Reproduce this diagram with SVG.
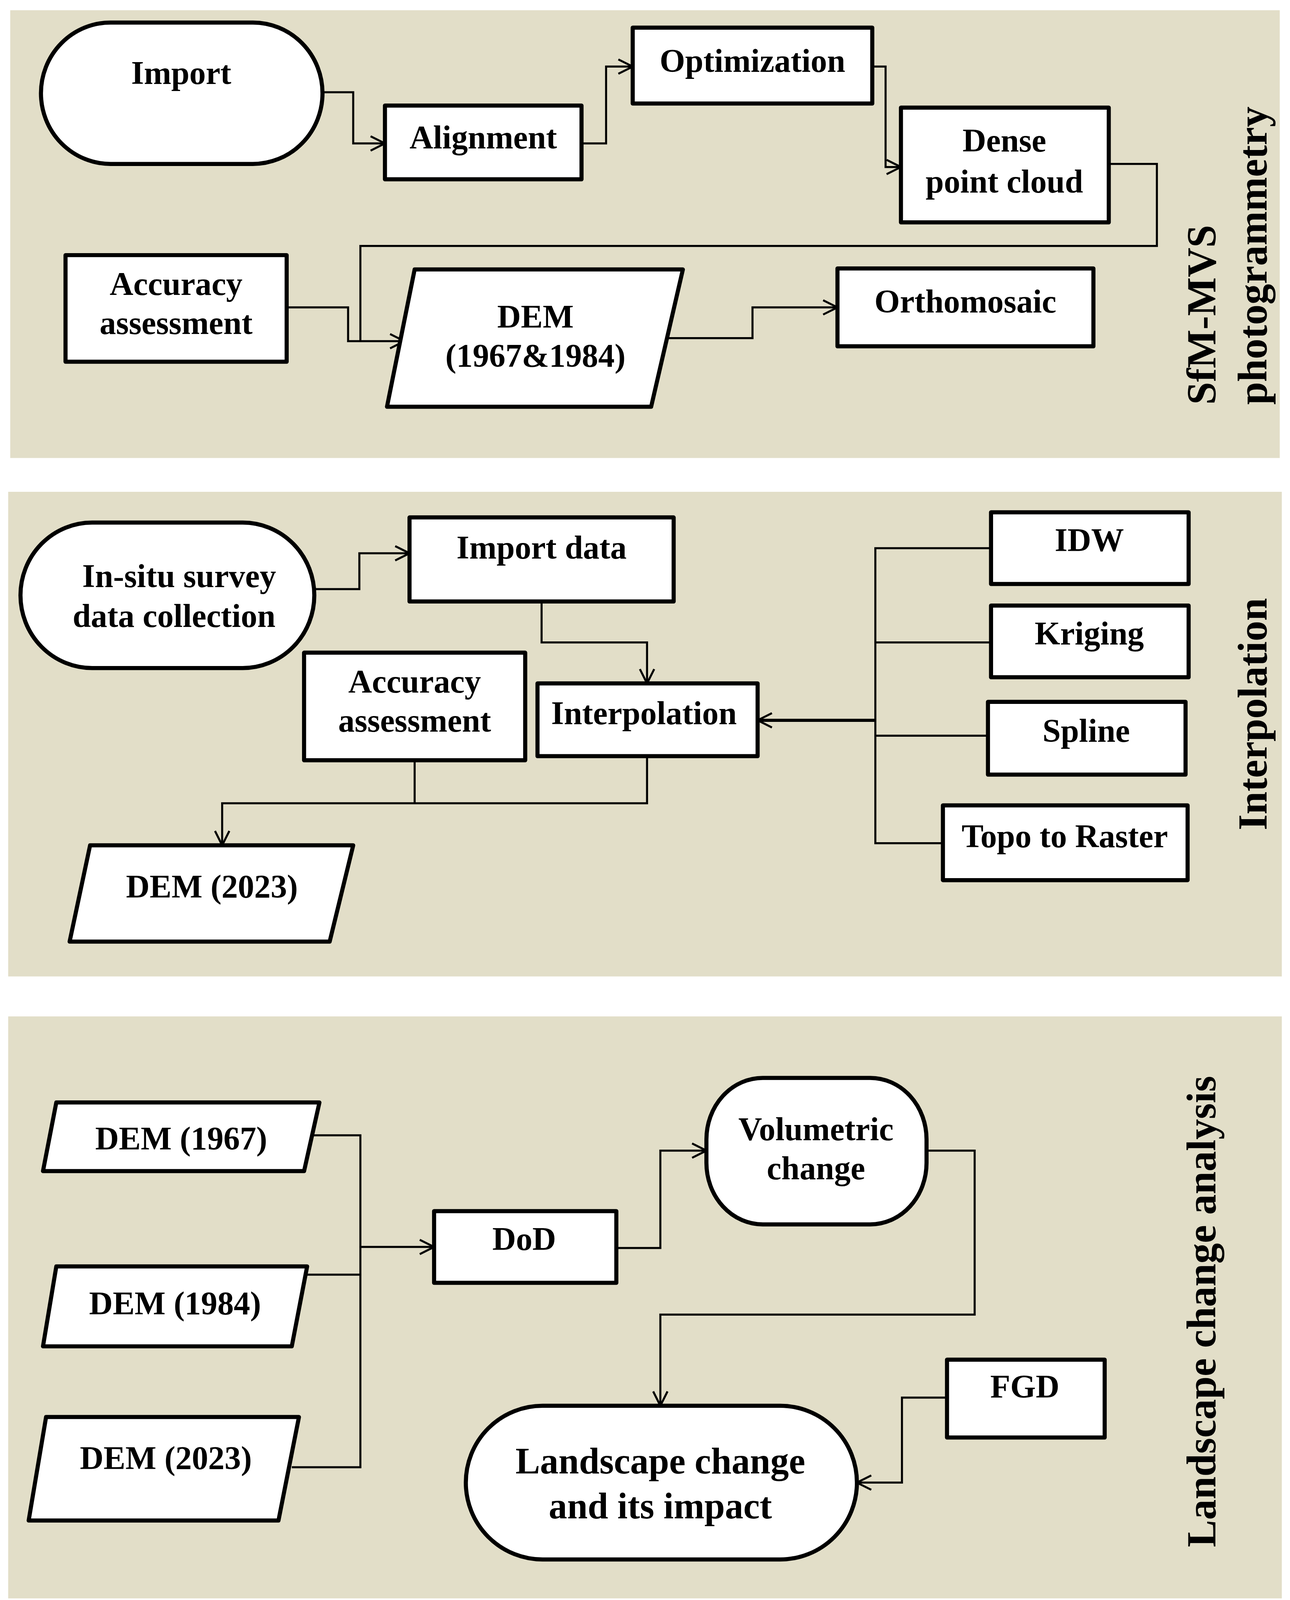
<svg xmlns="http://www.w3.org/2000/svg" width="3302" height="4113" viewBox="0 0 3302 4113">
<style>
.p{fill:#e2dec8}
.n{fill:#fff;stroke:#000;stroke-width:4;stroke-linejoin:round}
.t{font-family:"Liberation Serif",serif;font-weight:bold;font-size:32px;text-anchor:middle;fill:#000}
.c{fill:none;stroke:#000;stroke-width:2}
.l{font-family:"Liberation Serif",serif;font-weight:bold;font-size:40px;fill:#000}
</style>
<defs><marker id="a" viewBox="0 0 16 16" refX="15" refY="8" markerWidth="16" markerHeight="16" markerUnits="userSpaceOnUse" orient="auto"><path d="M1,1 L15,8 L1,15" fill="none" stroke="#000" stroke-width="2"/></marker></defs>
<rect width="3302" height="4113" fill="#fff"/>
<g transform="scale(2.6206,2.623)">
<rect class="p" x="10" y="10" width="1240" height="437"/>
<rect class="p" x="8" y="480" width="1244" height="473"/>
<rect class="p" x="8" y="992" width="1244" height="568"/>
<g id="connectors">
<path class="c" marker-end="url(#a)" d="M315,90H345V140H376"/>
<path class="c" marker-end="url(#a)" d="M568,140H592V65H618"/>
<path class="c" marker-end="url(#a)" d="M852,65H865V163H880"/>
<path class="c" marker-end="url(#a)" d="M1083,160H1130V240H352V333H395"/>
<path class="c" d="M280,300H340V333H352"/>
<path class="c" marker-end="url(#a)" d="M652,330H735V300H818"/>
<path class="c" marker-end="url(#a)" d="M307,575H351V540H400"/>
<path class="c" marker-end="url(#a)" d="M529,587V627H632V667"/>
<path class="c" d="M405,742V784"/>
<path class="c" marker-end="url(#a)" d="M632,738V784H217V825"/>
<path class="c" d="M968,535H855V823H921M855,627H968M855,718H965"/>
<path class="c" marker-end="url(#a)" style="stroke-width:3" d="M855,703H740"/>
<path class="c" d="M305,1108H352V1432H285M292,1244H352"/>
<path class="c" marker-end="url(#a)" d="M352,1217H424"/>
<path class="c" marker-end="url(#a)" d="M602,1218H645V1123H690"/>
<path class="c" marker-end="url(#a)" d="M905,1123H952V1283H645V1372"/>
<path class="c" marker-end="url(#a)" d="M925,1364H881V1447H837"/>
</g>
<g id="import"><rect class="n" x="40" y="22" width="275" height="138" rx="68" ry="69"/><text class="t" x="177" y="82">Import</text></g>
<g id="alignment"><rect class="n" x="376" y="103" width="192" height="72"/><text class="t" x="472" y="145">Alignment</text></g>
<g id="optimization"><rect class="n" x="618" y="27" width="234" height="74"/><text class="t" x="735" y="70">Optimization</text></g>
<g id="dense"><rect class="n" x="880" y="105" width="203" height="112"/><text class="t" x="981" y="148">Dense</text><text class="t" x="981" y="188">point cloud</text></g>
<g id="acc1"><rect class="n" x="64" y="249" width="216" height="104"/><text class="t" x="172" y="288">Accuracy</text><text class="t" x="172" y="326">assessment</text></g>
<g id="dem1"><polygon class="n" points="405,263 667,263 636,397 378,397"/><text class="t" x="523" y="320">DEM</text><text class="t" x="523" y="358">(1967&amp;1984)</text></g>
<g id="ortho"><rect class="n" x="818" y="262" width="250" height="76"/><text class="t" x="943" y="305">Orthomosaic</text></g>
<text class="l" transform="translate(1187,395) rotate(-90)">SfM-MVS</text>
<text class="l" transform="translate(1237,395) rotate(-90)">photogrammetry</text>
<g id="insitu"><rect class="n" x="20" y="510" width="287" height="142" rx="70" ry="71"/><text class="t" x="175" y="573">In-situ survey</text><text class="t" x="170" y="612">data collection</text></g>
<g id="importdata"><rect class="n" x="400" y="505" width="258" height="82"/><text class="t" x="529" y="545">Import data</text></g>
<g id="acc2"><rect class="n" x="297" y="637" width="216" height="105"/><text class="t" x="405" y="676">Accuracy</text><text class="t" x="405" y="714">assessment</text></g>
<g id="interp"><rect class="n" x="525" y="667" width="215" height="71"/><text class="t" x="629" y="707">Interpolation</text></g>
<g id="dem2023a"><polygon class="n" points="88,825 345,825 322,919 68,919"/><text class="t" x="207" y="876">DEM (2023)</text></g>
<g id="idw"><rect class="n" x="968" y="500" width="193" height="70"/><text class="t" x="1064" y="538">IDW</text></g>
<g id="kriging"><rect class="n" x="968" y="591" width="193" height="70"/><text class="t" x="1064" y="629">Kriging</text></g>
<g id="spline"><rect class="n" x="965" y="685" width="193" height="71"/><text class="t" x="1061" y="724">Spline</text></g>
<g id="topo"><rect class="n" x="921" y="786" width="239" height="73"/><text class="t" x="1040" y="827">Topo to Raster</text></g>
<text class="l" style="text-anchor:middle" transform="translate(1237,697) rotate(-90)">Interpolation</text>
<g id="dem1967"><polygon class="n" points="55,1076 312,1076 297,1143 42,1143"/><text class="t" x="177" y="1122">DEM (1967)</text></g>
<g id="dem1984"><polygon class="n" points="55,1236 300,1236 285,1314 42,1314"/><text class="t" x="171" y="1283">DEM (1984)</text></g>
<g id="dem2023"><polygon class="n" points="45,1383 292,1383 272,1484 28,1484"/><text class="t" x="162" y="1434">DEM (2023)</text></g>
<g id="dod"><rect class="n" x="424" y="1182" width="178" height="70"/><text class="t" x="512" y="1220">DoD</text></g>
<g id="vol"><rect class="n" x="690" y="1052" width="215" height="143" rx="55" ry="60"/><text class="t" x="797" y="1113">Volumetric</text><text class="t" x="797" y="1151">change</text></g>
<g id="landscape"><rect class="n" x="455" y="1372" width="382" height="150" rx="75" ry="75"/><text class="t" style="font-size:36px" x="645" y="1438">Landscape  change</text><text class="t" style="font-size:36px" x="645" y="1482">and its impact</text></g>
<g id="fgd"><rect class="n" x="925" y="1327" width="154" height="76"/><text class="t" x="1001" y="1364">FGD</text></g>
<text class="l" style="text-anchor:middle" transform="translate(1187,1280) rotate(-90)">Landscape  change analysis</text>
</g>
</svg>
